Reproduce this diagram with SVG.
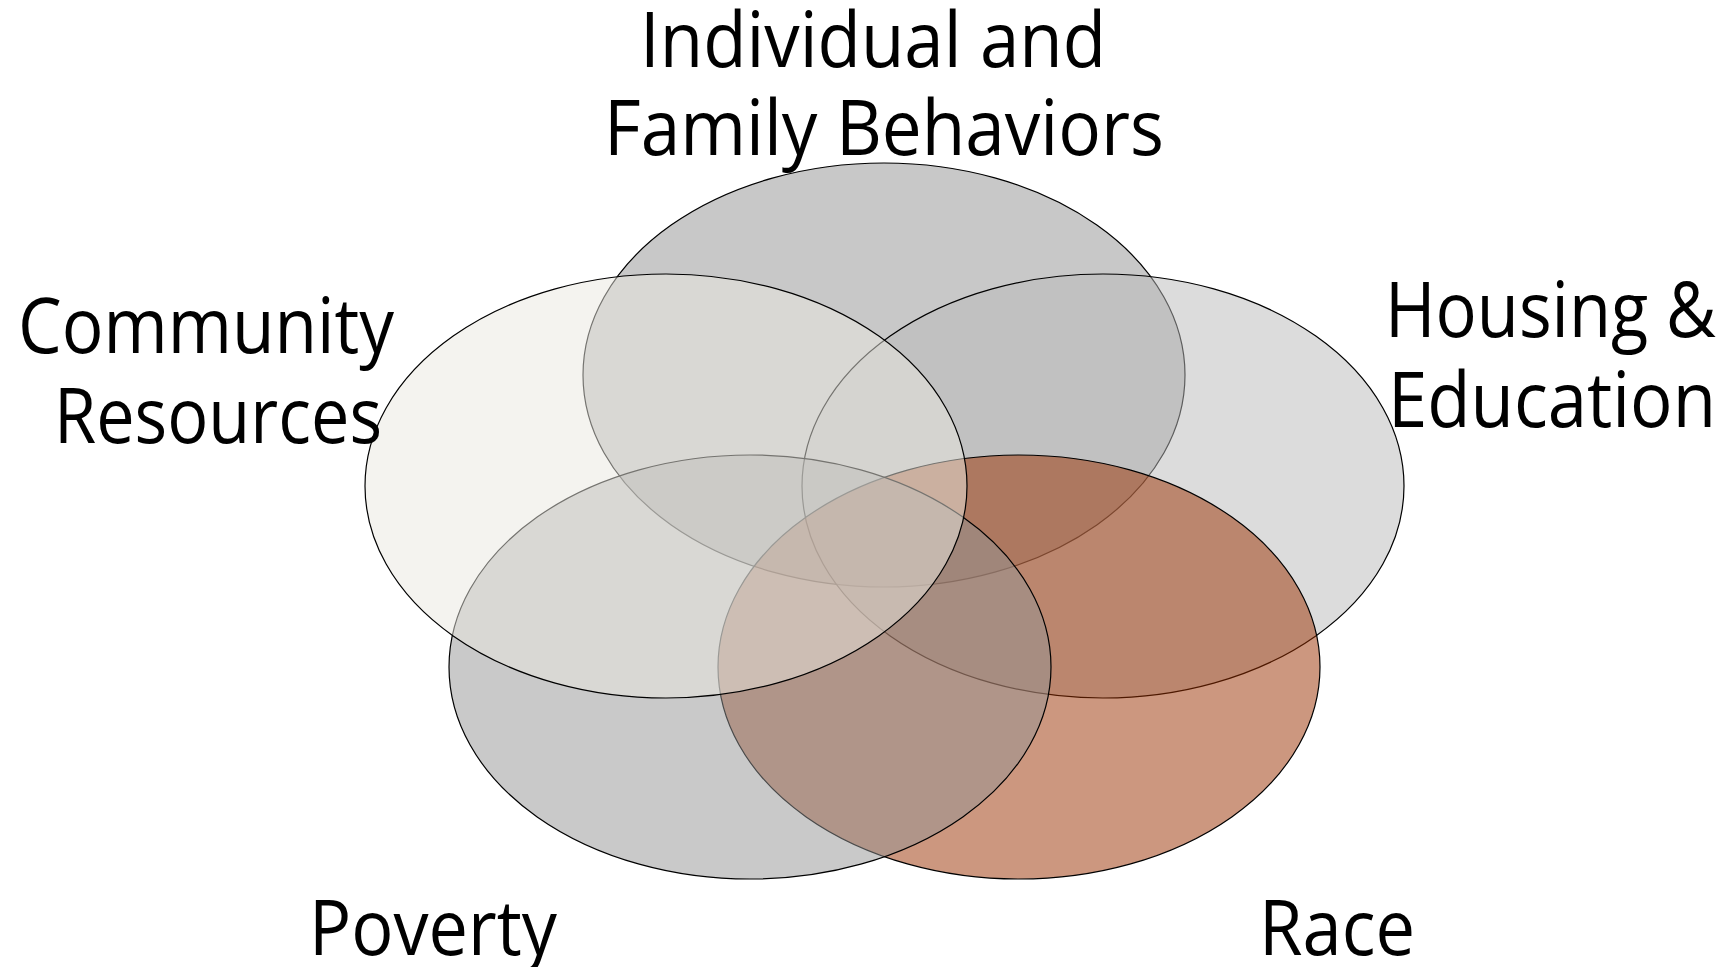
<svg xmlns="http://www.w3.org/2000/svg" width="1729" height="967" viewBox="0 0 1729 967">
<style>
.c{stroke:#000;stroke-width:1.2}
.t{font-family:"Open Sans","DejaVu Sans",sans-serif;font-size:76px;fill:#000}
</style>
<rect width="1729" height="967" fill="#fff"/>
<g id="individual"><ellipse class="c" cx="884" cy="375" rx="301" ry="212" fill="#919191" fill-opacity="0.5"/></g>
<g id="housing"><ellipse class="c" cx="1103" cy="486" rx="301" ry="212" fill="#b9b9b9" fill-opacity="0.5"/></g>
<g id="race"><ellipse class="c" cx="1019" cy="667" rx="301" ry="212" fill="#992f00" fill-opacity="0.5"/></g>
<g id="poverty"><ellipse class="c" cx="750" cy="667" rx="301" ry="212" fill="#939393" fill-opacity="0.5"/></g>
<g id="community"><ellipse class="c" cx="666" cy="486" rx="301" ry="212" fill="#e9e7df" fill-opacity="0.5"/></g>
<g id="labels">
<text class="t" x="640" y="67" textLength="466" lengthAdjust="spacingAndGlyphs">Individual and</text>
<text class="t" x="604" y="155" textLength="560" lengthAdjust="spacingAndGlyphs">Family Behaviors</text>
<text class="t" x="18" y="353" textLength="376" lengthAdjust="spacingAndGlyphs">Community</text>
<text class="t" x="54" y="443" textLength="328" lengthAdjust="spacingAndGlyphs">Resources</text>
<text class="t" x="1385" y="337" textLength="331" lengthAdjust="spacingAndGlyphs">Housing &amp;</text>
<text class="t" x="1388" y="427" textLength="328" lengthAdjust="spacingAndGlyphs">Education</text>
<text class="t" x="309" y="955" textLength="248" lengthAdjust="spacingAndGlyphs">Poverty</text>
<text class="t" x="1259" y="955" textLength="156" lengthAdjust="spacingAndGlyphs">Race</text>
</g>
<g id="connectors"/>
</svg>
